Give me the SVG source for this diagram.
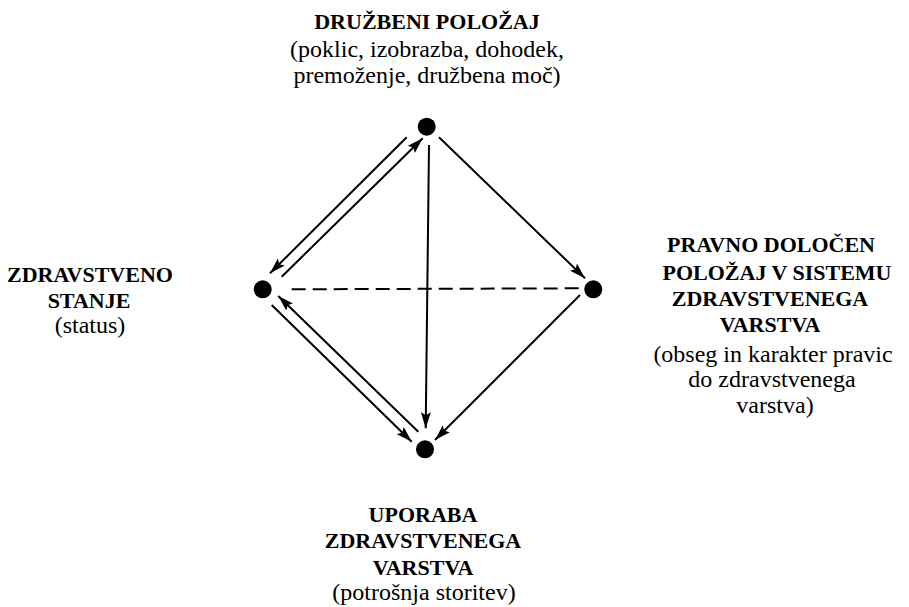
<svg xmlns="http://www.w3.org/2000/svg" width="909" height="607" viewBox="0 0 909 607">
<defs>
<marker id="ah" viewBox="0 0 16 10" refX="16" refY="5" markerWidth="16" markerHeight="10" markerUnits="userSpaceOnUse" orient="auto">
<path d="M0,0 L16,5 L0,10 L3,5 Z" fill="#000"/>
</marker>
</defs>
<g id="connectors" stroke="#000" stroke-width="2" fill="none">
<line x1="406.7" y1="137.3" x2="270" y2="273.3" marker-end="url(#ah)"/>
<line x1="281.7" y1="276.7" x2="422.7" y2="138.3" marker-end="url(#ah)"/>
<line x1="429" y1="145" x2="425.7" y2="428.3" marker-end="url(#ah)"/>
<line x1="439" y1="137.3" x2="585" y2="278.3" marker-end="url(#ah)"/>
<line x1="580" y1="295" x2="435" y2="440" marker-end="url(#ah)"/>
<line x1="271.7" y1="305" x2="411.7" y2="441.7" marker-end="url(#ah)"/>
<line x1="418.3" y1="431.7" x2="278.3" y2="296" marker-end="url(#ah)"/>
<line x1="291.7" y1="289.3" x2="581.7" y2="288.3" stroke-dasharray="14 7"/>
</g>
<g id="node-top">
<circle cx="426.7" cy="126.7" r="9"/>
<g font-size="22" text-anchor="middle">
<text font-family="Liberation Serif" font-weight="bold" x="427" y="29">DRUŽBENI POLOŽAJ</text>
</g>
<g font-size="24" text-anchor="middle">
<text font-family="Liberation Serif" x="427" y="57">(poklic, izobrazba, dohodek,</text>
<text font-family="Liberation Serif" x="427" y="83">premoženje, družbena moč)</text>
</g>
</g>
<g id="node-left">
<circle cx="262.7" cy="289.3" r="9"/>
<g font-size="22" text-anchor="middle">
<text font-family="Liberation Serif" font-weight="bold" x="90" y="282">ZDRAVSTVENO</text>
<text font-family="Liberation Serif" font-weight="bold" x="89" y="308">STANJE</text>
</g>
<g font-size="24" text-anchor="middle">
<text font-family="Liberation Serif" x="90" y="333">(status)</text>
</g>
</g>
<g id="node-right">
<circle cx="593.3" cy="289.3" r="9"/>
<g font-size="22" text-anchor="middle">
<text font-family="Liberation Serif" font-weight="bold" x="771" y="252">PRAVNO DOLOČEN</text>
<text font-family="Liberation Serif" font-weight="bold" x="777" y="280">POLOŽAJ V SISTEMU</text>
<text font-family="Liberation Serif" font-weight="bold" x="770" y="306">ZDRAVSTVENEGA</text>
<text font-family="Liberation Serif" font-weight="bold" x="770" y="332">VARSTVA</text>
</g>
<g font-size="24" text-anchor="middle">
<text font-family="Liberation Serif" x="773" y="362">(obseg in karakter pravic</text>
<text font-family="Liberation Serif" x="772" y="387">do zdravstvenega</text>
<text font-family="Liberation Serif" x="775" y="413">varstva)</text>
</g>
</g>
<g id="node-bottom">
<circle cx="425" cy="449.3" r="9"/>
<g font-size="22" text-anchor="middle">
<text font-family="Liberation Serif" font-weight="bold" x="423" y="522">UPORABA</text>
<text font-family="Liberation Serif" font-weight="bold" x="423" y="548">ZDRAVSTVENEGA</text>
<text font-family="Liberation Serif" font-weight="bold" x="423" y="575">VARSTVA</text>
</g>
<g font-size="24" text-anchor="middle">
<text font-family="Liberation Serif" x="424" y="600">(potrošnja storitev)</text>
</g>
</g>
</svg>
